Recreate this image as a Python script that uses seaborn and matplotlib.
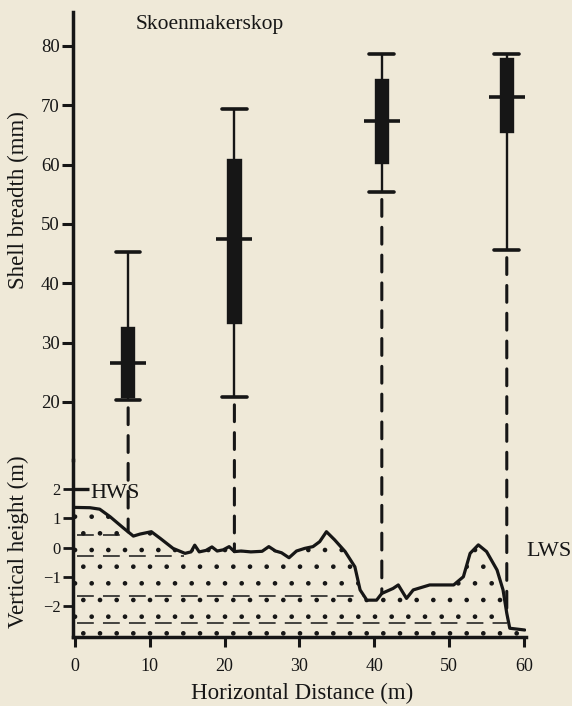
import numpy as np
import pandas as pd
import matplotlib
matplotlib.use("Agg")
import matplotlib.pyplot as plt
import seaborn as sns
from matplotlib.patches import ConnectionPatch

# ---------------- data ----------------
station_x = [7.1, 21.3, 41.0, 57.7]          # horizontal distance of sampling stations (m)
whisker_low = [20.3, 20.8, 55.4, 45.6]       # shell breadth minimum (mm)
box_low = [20.8, 33.3, 60.3, 65.4]           # lower box edge
median = [26.6, 47.5, 67.4, 71.4]            # median / mean
box_high = [32.5, 60.8, 74.3, 77.7]          # upper box edge
whisker_high = [45.3, 69.4, 78.7, 78.7]      # maximum

profile_x = [0, 2.0, 3.3, 4.7, 6.5, 7.8, 8.7, 10.2, 11.4, 13.1, 14.7, 15.5, 16.0,
             16.6, 17.5, 18.3, 19.0, 19.8, 20.6, 21.3, 22.2, 23.5, 25.0, 25.9,
             26.8, 27.6, 28.6, 29.6, 30.7, 31.8, 32.7, 33.6, 34.7, 36.1, 37.4,
             38.1, 39.0, 40.3, 41.0, 42.5, 43.2, 44.3, 45.2, 47.4, 50.6, 51.9,
             52.8, 53.9, 55.0, 56.4, 57.2, 57.7, 58.1, 60.1]
profile_h = [1.37, 1.36, 1.31, 1.05, 0.66, 0.39, 0.46, 0.54, 0.31, -0.03, -0.20,
             -0.15, 0.08, -0.15, -0.10, 0.02, -0.12, -0.08, 0.03, -0.14, -0.12,
             -0.15, -0.13, 0.03, -0.12, -0.18, -0.35, -0.12, -0.03, 0.03, 0.20,
             0.54, 0.26, -0.14, -0.66, -1.45, -1.80, -1.80, -1.57, -1.40, -1.28,
             -1.74, -1.45, -1.28, -1.28, -1.00, -0.20, 0.09, -0.14, -0.77, -1.45,
             -2.25, -2.76, -2.82]

level_h = [0.43, -0.29, -1.66, -2.57]        # dashed tide levels (m)
level_end = [7.0, 14.6, 38.5, 57.7]

hws_h = 2.0
lws_h = -0.15

shell_ticks = [20, 30, 40, 50, 60, 70, 80]
height_ticks = [-2, -1, 0, 1, 2]
height_labels = ["\u22122", "\u22121", "0", "1", "2"]
dist_ticks = [0, 10, 20, 30, 40, 50, 60]

title = "Skoenmakerskop"
shell_label = "Shell breadth (mm)"
height_label = "Vertical height (m)"
dist_label = "Horizontal Distance (m)"

# ---------------- style ----------------
BG = "#efe9d8"
INK = "#161616"

sns.set_theme(style="white", rc={"hatch.linewidth": 0.9, "hatch.color": INK})
plt.rcParams["font.family"] = ["Liberation Serif", "DejaVu Serif"]
plt.rcParams["text.color"] = INK
plt.rcParams["axes.labelcolor"] = INK
plt.rcParams["xtick.color"] = INK
plt.rcParams["ytick.color"] = INK

fig = plt.figure(figsize=(5.72, 7.06), dpi=100, facecolor=BG)
ax_top = fig.add_axes([0.1276, 0.3484, 0.792, 0.6346])
ax_bot = fig.add_axes([0.1276, 0.0977, 0.792, 0.2507])
XLIM = (-0.27, 60.27)
for ax in (ax_top, ax_bot):
    ax.set_facecolor("none")
    ax.set_xlim(*XLIM)

# ---------------- top panel: shell breadth boxes ----------------
box_df = pd.DataFrame({
    "x": np.repeat(station_x, 5),
    "v": np.column_stack([whisker_low, box_low, median, box_high, whisker_high]).ravel(),
})
sns.boxplot(data=box_df, x="x", y="v", orient="x", native_scale=True,
            width=0.118, whis=(0, 100), color=INK, linecolor=INK,
            linewidth=1.7, showfliers=False, ax=ax_top,
            capprops={"linewidth": 2.6}, capwidths=3.3)
sns.scatterplot(x=station_x, y=median, marker="_", s=680, linewidth=2.6,
                color=INK, edgecolor=INK, ax=ax_top, zorder=6, legend=False)

ax_top.set_xlim(*XLIM)
ax_top.set_ylim(10.2, 85.7)
ax_top.set_yticks(shell_ticks)
ax_top.set_yticklabels([str(t) for t in shell_ticks])
ax_top.set_xticks([])
ax_top.set_xlabel("")
ax_top.set_ylabel(shell_label, fontsize=16.5)
ax_top.yaxis.label.set_va("center")
ax_top.yaxis.set_label_coords(-0.121, 0.58)
for s in ("top", "right", "bottom"):
    ax_top.spines[s].set_visible(False)
ax_top.spines["left"].set_linewidth(2.5)
ax_top.spines["left"].set_color(INK)
ax_top.tick_params(axis="y", direction="out", length=8, width=2.2, pad=1.5,
                   labelsize=13.5, left=True)

# ---------------- bottom panel: beach profile ----------------
ax_bot.fill_between(profile_x, profile_h, -3.06, facecolor="none",
                    edgecolor=INK, hatch=".", linewidth=0)
ax_bot.hlines(level_h, 0.2, level_end, colors=INK, linewidth=1.1,
              linestyles=[(0, (11, 6))])
sns.lineplot(x=profile_x, y=profile_h, sort=False, estimator=None, color=INK,
             linewidth=2.3, ax=ax_bot, zorder=4)
for ln in ax_bot.lines:
    ln.set_solid_joinstyle("round")
    ln.set_solid_capstyle("round")

ax_bot.hlines([hws_h], XLIM[0], 1.9, colors=INK, linewidth=2.4)
ax_bot.text(2.0, hws_h - 0.15, "HWS", ha="left", va="center", fontsize=16)
ax_bot.text(60.3, lws_h, "LWS", ha="left", va="center", fontsize=16,
            clip_on=False)

ax_bot.set_ylim(-3.06, 2.99)
ax_bot.set_yticks(height_ticks)
ax_bot.set_yticklabels(height_labels)
ax_bot.set_xticks(dist_ticks)
ax_bot.set_xticklabels([str(t) for t in dist_ticks])
ax_bot.set_xlabel(dist_label, fontsize=16.5)
ax_bot.xaxis.label.set_va("center")
ax_bot.xaxis.set_label_coords(0.505, -0.316)
ax_bot.set_ylabel(height_label, fontsize=16.5)
ax_bot.yaxis.label.set_va("center")
ax_bot.yaxis.set_label_coords(-0.121, 0.54)
for s in ("top", "right"):
    ax_bot.spines[s].set_visible(False)
for s in ("left", "bottom"):
    ax_bot.spines[s].set_linewidth(2.5)
    ax_bot.spines[s].set_color(INK)
ax_bot.tick_params(axis="y", direction="out", length=7, width=2.0, pad=2,
                   labelsize=12, left=True)
ax_bot.tick_params(axis="x", direction="out", length=7, width=2.2, pad=8,
                   labelsize=13, bottom=True)

# ---------------- dashed connectors from boxes to the profile ----------------
prof_at_station = np.interp(station_x, profile_x, profile_h)
for xs, lo, ph in zip(station_x, whisker_low, prof_at_station):
    con = ConnectionPatch(xyA=(xs, lo - 1.3), coordsA=ax_top.transData,
                          xyB=(xs, ph), coordsB=ax_bot.transData,
                          linestyle=(0, (5.5, 3.6)), linewidth=2.2, color=INK,
                          zorder=5)
    fig.add_artist(con)

fig.text(210 / 572, 1 - 25 / 706, title, ha="center", va="center", fontsize=15.5)

fig.savefig("out.png", dpi=100, facecolor=BG)
